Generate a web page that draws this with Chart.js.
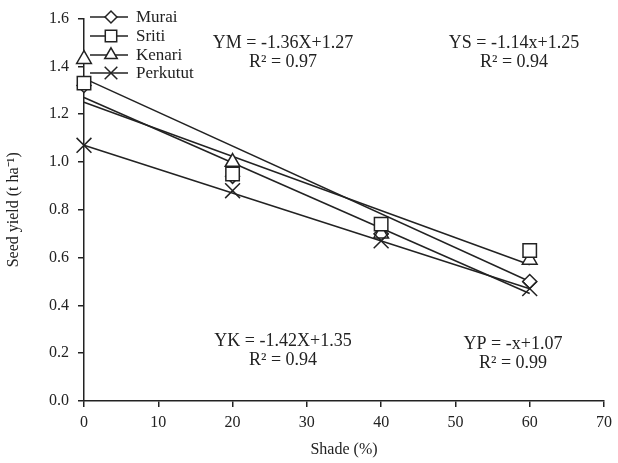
<!DOCTYPE html>
<html>
<head>
<meta charset="utf-8">
<script src="https://cdn.jsdelivr.net/npm/chart.js@4/dist/chart.umd.min.js"></script>
<style>
  html, body { margin: 0; padding: 0; background: #fff; }
  #wrap { width: 618px; height: 463px; }
</style>
</head>
<body>
<div id="wrap"><canvas id="seedChart" width="618" height="463"></canvas></div>
<script>
// shade levels (%) and seed yield (t/ha)
const shade = [0, 20, 40, 60];
const murai = [1.32, 0.94, 0.70, 0.50];
const sriti = [1.33, 0.95, 0.74, 0.63];
const kenari = [1.43, 1.00, 0.70, 0.59];
const perkutut = [1.07, 0.88, 0.67, 0.47];

// regression line end points at 0 and 60 % shade
const trendX = [0, 60];
const trendM = [1.27, 0.45];
const trendS = [1.25, 0.57];
const trendK = [1.35, 0.50];
const trendP = [1.07, 0.47];

const seriesNames = ['Murai', 'Sriti', 'Kenari', 'Perkutut'];
const equations = [
  ['YM = -1.36X+1.27', 'R² = 0.97'],
  ['YS = -1.14x+1.25', 'R² = 0.94'],
  ['YK = -1.42X+1.35', 'R² = 0.94'],
  ['YP = -x+1.07', 'R² = 0.99']
];
const yTicks = [0, 0.2, 0.4, 0.6, 0.8, 1.0, 1.2, 1.4, 1.6];

const ink = '#222';
const serif = "'Liberation Serif', 'Times New Roman', serif";
const markers = [
  { pointStyle: 'rectRot', radius: 7 },
  { pointStyle: 'rect', radius: 9.5 },
  { pointStyle: 'triangle', radius: 8.5 },
  { pointStyle: 'crossRot', radius: 10.5 }
];
// higher number = drawn further back
const drawOrder = [4, 2, 3, 1];

function pts(xs, ys) {
  return xs.map((x, i) => ({ x: x, y: ys[i] }));
}

function trendSet(ys) {
  return {
    data: pts(trendX, ys),
    showLine: true,
    borderColor: ink,
    borderWidth: 1.5,
    pointRadius: 0,
    clip: false,
    order: 5
  };
}

function pointSet(ys, k) {
  return {
    label: seriesNames[k],
    data: pts(shade, ys),
    showLine: false,
    pointStyle: markers[k].pointStyle,
    pointRadius: markers[k].radius,
    pointBackgroundColor: k === 3 ? ink : '#fff',
    pointBorderColor: ink,
    pointBorderWidth: 1.5,
    clip: false,
    order: drawOrder[k]
  };
}

// legend: short line with marker in the middle, label to the right
const legendPlugin = {
  id: 'lineLegend',
  afterDraw(chart) {
    const ctx = chart.ctx;
    const rows = [17, 36, 55, 73];
    ctx.save();
    ctx.strokeStyle = ink;
    ctx.lineWidth = 1.5;
    ctx.font = '17px ' + serif;
    ctx.fillStyle = ink;
    ctx.textBaseline = 'middle';
    rows.forEach((y, k) => {
      ctx.beginPath();
      ctx.moveTo(90, y);
      ctx.lineTo(128, y);
      ctx.stroke();
      ctx.fillStyle = '#fff';
      Chart.helpers.drawPoint(ctx, {
        pointStyle: markers[k].pointStyle,
        radius: markers[k].radius * 0.85,
        rotation: 0,
        borderWidth: 1.5
      }, 111, y);
      ctx.fillStyle = ink;
      ctx.fillText(seriesNames[k], 136, y + 1);
    });
    ctx.restore();
  }
};

const equationPlugin = {
  id: 'equations',
  afterDraw(chart) {
    const ctx = chart.ctx;
    const spots = [[283, 43], [514, 43], [283, 341], [513, 344]];
    ctx.save();
    ctx.font = '18px ' + serif;
    ctx.fillStyle = ink;
    ctx.textAlign = 'center';
    ctx.textBaseline = 'middle';
    spots.forEach((p, k) => {
      ctx.fillText(equations[k][0], p[0], p[1]);
      ctx.fillText(equations[k][1], p[0], p[1] + 19);
    });
    ctx.restore();
  }
};

const config = {
  type: 'scatter',
  data: {
    datasets: [
      pointSet(murai, 0),
      pointSet(sriti, 1),
      pointSet(kenari, 2),
      pointSet(perkutut, 3),
      trendSet(trendM),
      trendSet(trendS),
      trendSet(trendK),
      trendSet(trendP)
    ]
  },
  options: {
    responsive: false,
    animation: false,
    layout: { padding: { top: 16, right: 12, left: 0, bottom: 0 } },
    plugins: {
      legend: { display: false },
      tooltip: { enabled: false }
    },
    scales: {
      x: {
        type: 'linear',
        min: 0,
        max: 70,
        ticks: { stepSize: 10, color: ink, font: { family: serif, size: 16 }, padding: 6, maxRotation: 0 },
        grid: { drawOnChartArea: false, tickLength: 6, color: ink, lineWidth: 1.5 },
        border: { color: ink, width: 1.5 },
        title: { display: true, text: 'Shade (%)', color: ink, font: { family: serif, size: 16 }, padding: { top: 4 } },
        afterFit(scale) { scale.height = 62; }
      },
      y: {
        min: 0,
        max: 1.6,
        afterBuildTicks(scale) { scale.ticks = yTicks.map(v => ({ value: v })); },
        ticks: { color: ink, font: { family: serif, size: 16 }, padding: 9, callback: v => v.toFixed(1) },
        grid: { drawOnChartArea: false, tickLength: 6, color: ink, lineWidth: 1.5 },
        border: { color: ink, width: 1.5 },
        title: { display: true, text: 'Seed yield (t ha⁻¹)', color: ink, font: { family: serif, size: 16 } },
        afterFit(scale) { scale.width = 84; }
      }
    }
  },
  plugins: [legendPlugin, equationPlugin]
};

const seedCtx = document.getElementById('seedChart').getContext('2d');
const seedChart = new Chart(seedCtx, config);
</script>
</body>
</html>
